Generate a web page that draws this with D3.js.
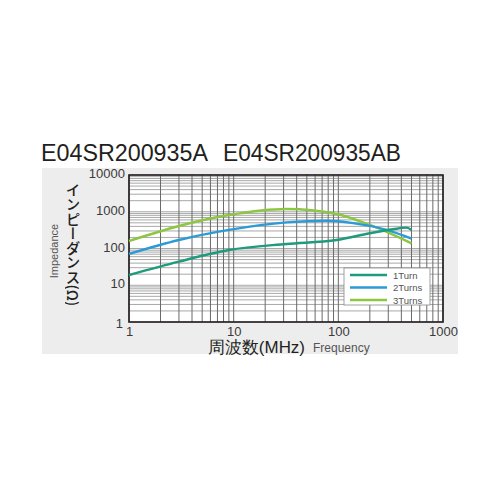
<!DOCTYPE html>
<html>
<head>
<meta charset="utf-8">
<script src="https://d3js.org/d3.v7.min.js"></script>
<style>
  body { margin: 0; background: #fff; }
  text { font-family: "Liberation Sans", "Noto Sans", sans-serif; }
  .vtitle {
    writing-mode: vertical-rl;
    font-family: "Noto Sans CJK JP", sans-serif;
    font-size: 14.5px; font-weight: 500; line-height: 1;
    color: #231f20; margin: 0;
  }
</style>
</head>
<body>
<div id="chart"></div>
<script>
// frequency (MHz) and impedance (ohm)
const freq1 = [1, 3, 9, 32, 96, 200, 333, 450, 500];
const turn1 = [19, 44, 91, 133, 170, 260, 333, 370, 320];
const freq2 = [1, 3, 9, 32, 77, 138, 290, 500];
const turn2 = [71, 170, 320, 515, 570, 490, 320, 185];
const freq3 = [1, 3, 9, 32, 96, 200, 500];
const turn3 = [160, 410, 815, 1190, 870, 437, 138];
const seriesNames = ["1Turn", "2Turns", "3Turns"];
const seriesColors = ["#1e9a7c", "#2b9ad6", "#8dc641"];
const xTicks = [1, 10, 100, 1000];
const yTicks = [1, 10, 100, 1000, 10000];

const W = 500, H = 500;
const svg = d3.select("#chart").append("svg")
    .attr("width", W).attr("height", H);

// grey panel behind the chart
svg.append("rect")
    .attr("x", 42).attr("y", 168).attr("width", 416).attr("height", 186)
    .attr("fill", "#ededed");

// title
svg.append("text").attr("x", 41).attr("y", 161)
    .attr("font-size", 23).attr("fill", "#231f20")
    .attr("textLength", 167).attr("lengthAdjust", "spacingAndGlyphs")
    .text("E04SR200935A");
svg.append("text").attr("x", 223).attr("y", 161)
    .attr("font-size", 23).attr("fill", "#231f20")
    .attr("textLength", 178).attr("lengthAdjust", "spacingAndGlyphs")
    .text("E04SR200935AB");

const x = d3.scaleLog().domain([1, 1000]).range([129, 443]);
const y = d3.scaleLog().domain([1, 10000]).range([322, 175]);

svg.append("rect")
    .attr("x", 129).attr("y", 175).attr("width", 314).attr("height", 147)
    .attr("fill", "#fff");

// horizontal grid
const hMinor = [];
for (let d = 1; d < 10000; d *= 10)
    for (let k = 2; k <= 9; k++) hMinor.push(d * k);
svg.append("g").selectAll("line").data(hMinor.concat(yTicks)).enter().append("line")
    .attr("x1", 129).attr("x2", 443)
    .attr("y1", d => y(d)).attr("y2", d => y(d))
    .attr("stroke", "#a8a8a8").attr("stroke-width", 1);

// vertical grid
const vMinor = [];
for (let d = 1; d < 1000; d *= 10)
    for (let k = 2; k <= 9; k++) vMinor.push(d * k);
svg.append("g").selectAll("line").data(vMinor.concat(xTicks)).enter().append("line")
    .attr("x1", d => x(d)).attr("x2", d => x(d))
    .attr("y1", 175).attr("y2", 322)
    .attr("stroke", "#6a6a6a").attr("stroke-width", 1);

// frame
svg.append("rect")
    .attr("x", 129).attr("y", 175).attr("width", 314).attr("height", 147)
    .attr("fill", "none").attr("stroke", "#231f20").attr("stroke-width", 1.6);

// axes labels
const xAxis = d3.axisBottom(x).tickValues(xTicks).tickFormat(d3.format("d")).tickSize(0);
const gx = svg.append("g").attr("transform", "translate(0,322)").call(xAxis);
gx.select(".domain").remove();
gx.selectAll("text").attr("dy", 0).attr("y", 13.5)
    .attr("font-size", 13).attr("fill", "#3a3a3a").attr("font-family", "Liberation Sans, sans-serif");

const yAxis = d3.axisLeft(y).tickValues(yTicks).tickFormat(d3.format("d")).tickSize(0);
const gy = svg.append("g").attr("transform", "translate(125,0)").call(yAxis);
gy.select(".domain").remove();
gy.selectAll("text").attr("x", 0).attr("dy", "0.2em")
    .attr("font-size", 13).attr("fill", "#3a3a3a").attr("font-family", "Liberation Sans, sans-serif");
gy.selectAll(".tick").filter(d => d === 1).select("text").attr("x", -2).attr("dy", "0.45em");

// curves
const line = d3.line().curve(d3.curveMonotoneX)
    .x(d => x(d[0])).y(d => y(d[1]));
const series = [
    d3.zip(freq1, turn1),
    d3.zip(freq2, turn2),
    d3.zip(freq3, turn3)
];
[2, 1, 0].forEach(i => {
    svg.append("path").datum(series[i])
        .attr("d", line)
        .attr("fill", "none")
        .attr("stroke", seriesColors[i])
        .attr("stroke-width", 2.4);
});

// legend
svg.append("rect")
    .attr("x", 344).attr("y", 268).attr("width", 86).attr("height", 37)
    .attr("fill", "#fff").attr("stroke", "#8a8a8a").attr("stroke-width", 0.8);
seriesNames.forEach((n, i) => {
    const ly = 275 + i * 12.5;
    svg.append("line").attr("x1", 350).attr("x2", 387).attr("y1", ly).attr("y2", ly)
        .attr("stroke", seriesColors[i]).attr("stroke-width", 2.4);
    svg.append("text").attr("x", 393).attr("y", ly + 3.5)
        .attr("font-size", 9.5).attr("fill", "#555").text(n);
});

// vertical Japanese y title (HTML handles vertical text better than SVG)
svg.append("foreignObject")
    .attr("x", 65).attr("y", 183).attr("width", 18).attr("height", 140)
    .append("xhtml:div").attr("class", "vtitle")
    .text("インピーダンス(Ω)");

svg.append("text")
    .attr("transform", "translate(58,251) rotate(-90)")
    .attr("text-anchor", "middle")
    .attr("font-size", 11).attr("fill", "#555")
    .text("Impedance");
svg.append("text")
    .attr("x", 208).attr("y", 353)
    .attr("font-family", "Noto Sans CJK JP")
    .attr("font-size", 17).attr("fill", "#231f20")
    .attr("textLength", 97).attr("lengthAdjust", "spacingAndGlyphs")
    .text("周波数(MHz)");
svg.append("text")
    .attr("x", 313).attr("y", 352)
    .attr("font-size", 12).attr("fill", "#555")
    .text("Frequency");
</script>
</body>
</html>
